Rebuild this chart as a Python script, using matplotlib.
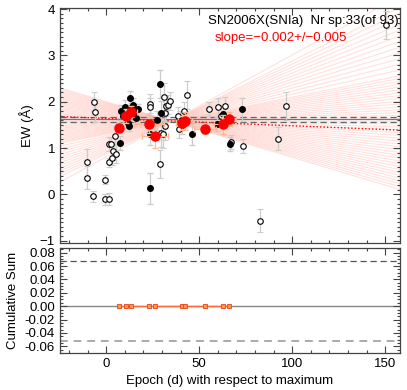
import matplotlib
matplotlib.use('Agg')
import matplotlib.pyplot as plt
from matplotlib.ticker import MultipleLocator, FormatStrFormatter

plt.rcParams['font.family'] = ['Liberation Sans', 'DejaVu Sans']
plt.rcParams['font.size'] = 9.5

# individual spectra, open symbols
open_x = [-6.5, -6.1, -10.4, -10.4, -7.4, -0.5, -0.9, 1.3, 1.3, 1.6, 2.7, 3.1, 3.4, 5.2, 4.5,
          23.4, 23.4, 29.0, 29.3, 30.4, 31.1, 31.8, 32.2, 33.3, 34.4, 31.8, 38.3, 39.0, 39.7,
          41.9, 42.3, 43.3, 55.2, 60.1, 61.5, 64.0, 67.1, 73.7, 92.6, 96.4, 82.6, 150.4]
open_y = [2.00, 1.77, 0.69, 0.36, -0.04, 0.32, -0.11, -0.10, 0.69, 1.09, 1.09, 0.79, 0.94, 0.88, 1.27,
          1.96, 1.88, 0.66, 1.32, 1.30, 2.11, 1.48, 1.90, 1.94, 2.02, 1.76, 1.69, 1.41, 1.59,
          1.79, 1.60, 2.14, 1.84, 1.89, 1.70, 1.91, 1.13, 1.05, 1.20, 1.90, -0.57, 3.65]
open_err = [0.20, 0.20, 0.30, 0.25, 0.12, 0.10, 0.12, 0.12, 0.10, 0.15, 0.15, 0.15, 0.20, 0.20, 0.20,
            0.20, 0.20, 0.30, 0.30, 0.30, 0.30, 0.30, 0.20, 0.20, 0.20, 0.20, 0.20, 0.20, 0.20,
            0.20, 0.20, 0.30, 0.15, 0.20, 0.20, 0.20, 0.15, 0.15, 0.25, 0.30, 0.25, 0.30]

# individual spectra, filled symbols
fill_x = [6.3, 7.0, 7.4, 8.1, 9.0, 10.3, 11.2, 11.7, 12.4, 12.8, 12.1, 13.3, 14.2, 15.1, 16.0, 17.1,
          23.4, 23.4, 29.0, 29.3, 27.2, 40.8, 46.0, 59.5, 62.9, 72.8, 66.7]
fill_y = [1.42, 1.48, 1.11, 1.79, 1.69, 1.88, 1.81, 1.55, 1.48, 2.09, 1.72, 1.86, 1.93, 1.76, 1.65, 1.84,
          1.31, 0.13, 2.39, 1.76, 1.60, 1.50, 1.31, 1.51, 1.74, 1.84, 1.08]
fill_err = [0.10, 0.12, 0.15, 0.15, 0.15, 0.15, 0.12, 0.12, 0.12, 0.15, 0.12, 0.12, 0.15, 0.12, 0.12, 0.12,
            0.25, 0.33, 0.30, 0.25, 0.20, 0.20, 0.25, 0.15, 0.20, 0.25, 0.15]

# binned averages
bin_x = [7.0, 10.6, 13.3, 22.8, 26.4, 40.5, 42.3, 52.9, 62.8, 66.0]
bin_y = [1.44, 1.70, 1.78, 1.52, 1.25, 1.55, 1.58, 1.42, 1.51, 1.62]
bin_xerr = [2.0, 2.0, 3.0, 8.0, 7.0, 3.0, 4.0, 6.0, 5.0, 4.0]
bin_yerr = [0.10, 0.15, 0.12, 0.20, 0.25, 0.15, 0.20, 0.12, 0.20, 0.15]

# fitted slopes (fan of trial fits through the pivot)
pivot_x, pivot_y = 35.0, 1.58
fan_slopes = [-0.012, -0.0115, -0.011, -0.0105, -0.010, -0.0095, -0.009, -0.0085, -0.008, -0.0075,
              -0.007, -0.0065, -0.006, -0.0055, -0.005, -0.0045, -0.004, -0.0035, -0.003, -0.0025,
              -0.002, -0.0015, -0.001, -0.0005, 0.0, 0.0005, 0.001, 0.0015, 0.002, 0.0025, 0.003,
              0.0035, 0.004, 0.0045, 0.005, 0.0055, 0.006, 0.0065, 0.007, 0.0075, 0.008, 0.009,
              0.010, 0.011, 0.012, 0.013, 0.014, 0.015, 0.016, 0.017, 0.018, 0.019, 0.020, 0.022]
best_slope, best_icpt = -0.0016, 1.64
mean_ew, mean_lo, mean_hi = 1.62, 1.56, 1.67

cum_x = bin_x
cum_y = [0.0] * len(bin_x)
cum_hi, cum_lo = 0.068, -0.052

xlim = (-25, 158)

fig = plt.figure(figsize=(4.07, 3.90), dpi=100)
ax1 = fig.add_axes([0.147, 0.377, 0.836, 0.602])
ax2 = fig.add_axes([0.147, 0.095, 0.836, 0.269])

for s in fan_slopes:
    ax1.plot(xlim, [pivot_y + s * (xlim[0] - pivot_x), pivot_y + s * (xlim[1] - pivot_x)],
             color='#ffc4bc', lw=0.8, alpha=0.5, zorder=1)

ax1.axhline(mean_ew, color='#777777', lw=0.9, zorder=2)
ax1.axhline(mean_lo, color='#666666', lw=0.9, ls=(0, (5, 3)), zorder=2)
ax1.axhline(mean_hi, color='#666666', lw=0.9, ls=(0, (5, 3)), zorder=2)
ax1.plot(xlim, [best_icpt + best_slope * xlim[0], best_icpt + best_slope * xlim[1]],
         color='red', lw=1.0, ls=(0, (1, 1.5)), zorder=2)

ax1.errorbar(open_x, open_y, yerr=open_err, fmt='o', ms=4, mfc='white', mec='black', mew=0.8,
             ecolor='#cccccc', elinewidth=0.9, capsize=2, zorder=4)
ax1.errorbar(fill_x, fill_y, yerr=fill_err, fmt='o', ms=4, mfc='black', mec='black',
             ecolor='#cccccc', elinewidth=0.9, capsize=2, zorder=4)
ax1.errorbar(bin_x, bin_y, xerr=bin_xerr, yerr=bin_yerr, fmt='o', ms=6.5, mfc='red', mec='red',
             ecolor='#ffb890', elinewidth=0.9, capsize=2, zorder=5)

ax1.set_xlim(xlim)
ax1.set_ylim(-1.05, 4.02)
ax1.set_ylabel('EW (Å)')
ax1.xaxis.set_major_locator(MultipleLocator(50))
ax1.xaxis.set_minor_locator(MultipleLocator(10))
ax1.yaxis.set_major_locator(MultipleLocator(1))
ax1.yaxis.set_minor_locator(MultipleLocator(0.1))
ax1.tick_params(labelbottom=False)

ax1.text(0.997, 0.945, 'SN2006X(SNIa)  Nr sp:33(of 93)', transform=ax1.transAxes,
         ha='right', va='center', color='black', fontsize=9.5)
ax1.text(0.455, 0.875, 'slope=\u22120.002+/\u22120.005', transform=ax1.transAxes,
         ha='left', va='center', color='red', fontsize=9.5)

ax2.axhline(0, color='#888888', lw=1.0, zorder=1)
ax2.axhline(cum_hi, color='#555555', lw=0.9, ls=(0, (5, 3)))
ax2.axhline(cum_lo, color='#aaaaaa', lw=1.4, ls=(0, (4, 3)))
ax2.plot(cum_x, cum_y, color='#ff6a3a', lw=1.0, zorder=2)
ax2.plot(cum_x, cum_y, 's', ms=3.5, mfc='#ff9a40', mec='#e84020', mew=0.6, zorder=3)
ax2.set_xlim(xlim)
ax2.set_ylim(-0.070, 0.087)
ax2.set_ylabel('Cumulative Sum')
ax2.set_xlabel('Epoch (d) with respect to maximum')
ax2.xaxis.set_major_locator(MultipleLocator(50))
ax2.xaxis.set_minor_locator(MultipleLocator(10))
ax2.yaxis.set_major_locator(MultipleLocator(0.02))
ax2.yaxis.set_minor_locator(MultipleLocator(0.005))
ax2.yaxis.set_major_formatter(FormatStrFormatter('%.2f'))

for ax in (ax1, ax2):
    ax.tick_params(which='both', direction='in', top=True, right=True, colors='#444444',
                   labelcolor='black', labelsize=9.5)
    ax.tick_params(which='major', length=5, width=0.8)
    ax.tick_params(which='minor', length=2.5, width=0.8)
    for sp in ax.spines.values():
        sp.set_color('#444444')
        sp.set_linewidth(0.9)

fig.savefig('out.png', dpi=100)
